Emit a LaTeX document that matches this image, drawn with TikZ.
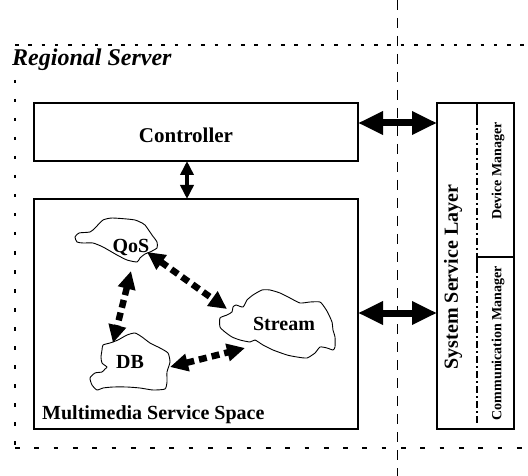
\documentclass[tikz,border=0pt]{standalone}
\usepackage{fontspec}
\setmainfont{Liberation Serif}
\usetikzlibrary{arrows.meta}
\begin{document}
\begin{tikzpicture}[x=1pt,y=-1pt,
  box/.style={draw, line width=2pt, rectangle, inner sep=0pt, outer sep=0pt},
  lbl/.style={font=\fontsize{20}{24}\selectfont\bfseries, inner sep=0pt},
  small/.style={font=\fontsize{14}{16}\selectfont\bfseries, inner sep=0pt},
  cloud/.style={line width=0.9pt, line join=round},
  bigarrow/.style={line width=7pt, {Triangle[length=25pt,width=22pt]}-{Triangle[length=25pt,width=22pt]}},
  midarrow/.style={line width=4pt, {Triangle[length=14pt,width=13pt]}-{Triangle[length=14pt,width=13pt]}},
  cloudarrow/.style={line width=6.5pt, dash pattern=on 8pt off 5pt, {Triangle[length=18pt,width=17pt]}-{Triangle[length=18pt,width=17pt]}},
  topdash/.style={line width=2pt, dash pattern=on 3.5pt off 9.8pt},
  botdash/.style={line width=2pt, dash pattern=on 4.7pt off 14.6pt},
  sidedash/.style={line width=2pt, dash pattern=on 3.5pt off 15.5pt},
  vdash/.style={line width=1pt, dash pattern=on 10pt off 8pt},
  dashdot/.style={line width=2pt, dash pattern=on 7pt off 3pt on 2pt off 3pt}
]
\useasboundingbox (0,0) rectangle (528,476);

% region boundaries
\draw[vdash] (397,0) -- (397,476);
\draw[topdash] (15,45) -- (528,45);
\draw[botdash] (15,448) -- (528,448);
\draw[sidedash] (15,80) -- (15,448);
\node[font=\fontsize{24}{28}\selectfont\bfseries\itshape, anchor=base west, inner sep=0pt] (rs) at (12,66) {Regional Server};

% boxes
\node[box, minimum width=324pt, minimum height=58pt] (ctrl) at (196,132) {};
\node[font=\fontsize{21}{25}\selectfont\bfseries, inner sep=0pt] (ctrltxt) at (186,135) {Controller};
\node[box, minimum width=324pt, minimum height=230pt] (mss) at (196,314) {};
\node[lbl, anchor=base west] (msstxt) at (42,419) {Multimedia Service Space};
\node[box, minimum width=77pt, minimum height=326pt] (ssl) at (475.5,266) {};

% inside right box
\draw[line width=2pt] (477,103) -- (477,118);
\draw[dashdot] (477,118) -- (477,257);
\draw[line width=2pt] (514,257) -- (477,257) -- (477,266);
\draw[dashdot] (477,266) -- (477,423);
\node[lbl, rotate=90] (ssltxt) at (453,277) {System Service Layer};
\node[small, rotate=90] (dm) at (498,171) {Device Manager};
\node[small, rotate=90] (cm) at (498,343) {Communication Manager};

% connectors between boxes
\coordinate (r1) at (0,123);
\coordinate (r2) at (0,313);
\coordinate (r3) at (187,0);
\draw[bigarrow] (ctrl.east |- r1) -- (ssl.west |- r1);
\draw[bigarrow] (mss.east |- r2) -- (ssl.west |- r2);
\draw[midarrow] (ctrl.south -| r3) -- (mss.north -| r3);

% clouds
\draw[cloud] plot[smooth cycle, tension=0.35] coordinates {(75,237) (79,233) (90,232) (95,228) (103,220) (112,218) (127,219) (135,220) (140,222) (145,225) (152,235) (157,242) (157,248) (150,252) (145,254) (140,258) (137,262) (127,260) (117,255) (103,247) (93,243) (83,243) (77,242)};
\draw[cloud] plot[smooth cycle, tension=0.35] coordinates {(103,345) (110,343) (118,340) (127,335) (135,333) (142,337) (150,343) (160,348) (168,353) (170,362) (167,372) (167,382) (165,389) (153,390) (140,388) (127,387) (113,387) (103,388) (97,390) (92,385) (90,378) (95,373) (102,372) (105,369) (107,367) (102,363) (101,357) (102,350)};
\draw[cloud] plot[smooth cycle, tension=0.35] coordinates {(220,318) (227,315) (232,312) (233,307) (236,305) (243,307) (247,300) (253,295) (262,290) (270,290) (280,293) (290,298) (300,303) (310,302) (320,302) (325,308) (328,313) (332,322) (333,330) (335,337) (335,347) (333,350) (327,348) (320,347) (315,353) (307,358) (297,357) (287,355) (273,350) (263,345) (255,340) (250,342) (240,340) (232,337) (225,332) (220,327)};
\node[lbl, anchor=base] (qos) at (131,253) {QoS};
\node[lbl, anchor=base] (stream) at (284,330) {Stream};
\node[lbl, anchor=base] (db) at (130,368) {DB};

% cloud connectors
\coordinate (qs1) at (147,252);
\coordinate (qs2) at (227,309);
\coordinate (qd1) at (131,271);
\coordinate (qd2) at (113,343);
\coordinate (ds1) at (170,367);
\coordinate (ds2) at (245,348);
\draw[cloudarrow] (qs1) -- (qs2);
\draw[cloudarrow] (qd1) -- (qd2);
\draw[cloudarrow] (ds1) -- (ds2);
\end{tikzpicture}
\end{document}
